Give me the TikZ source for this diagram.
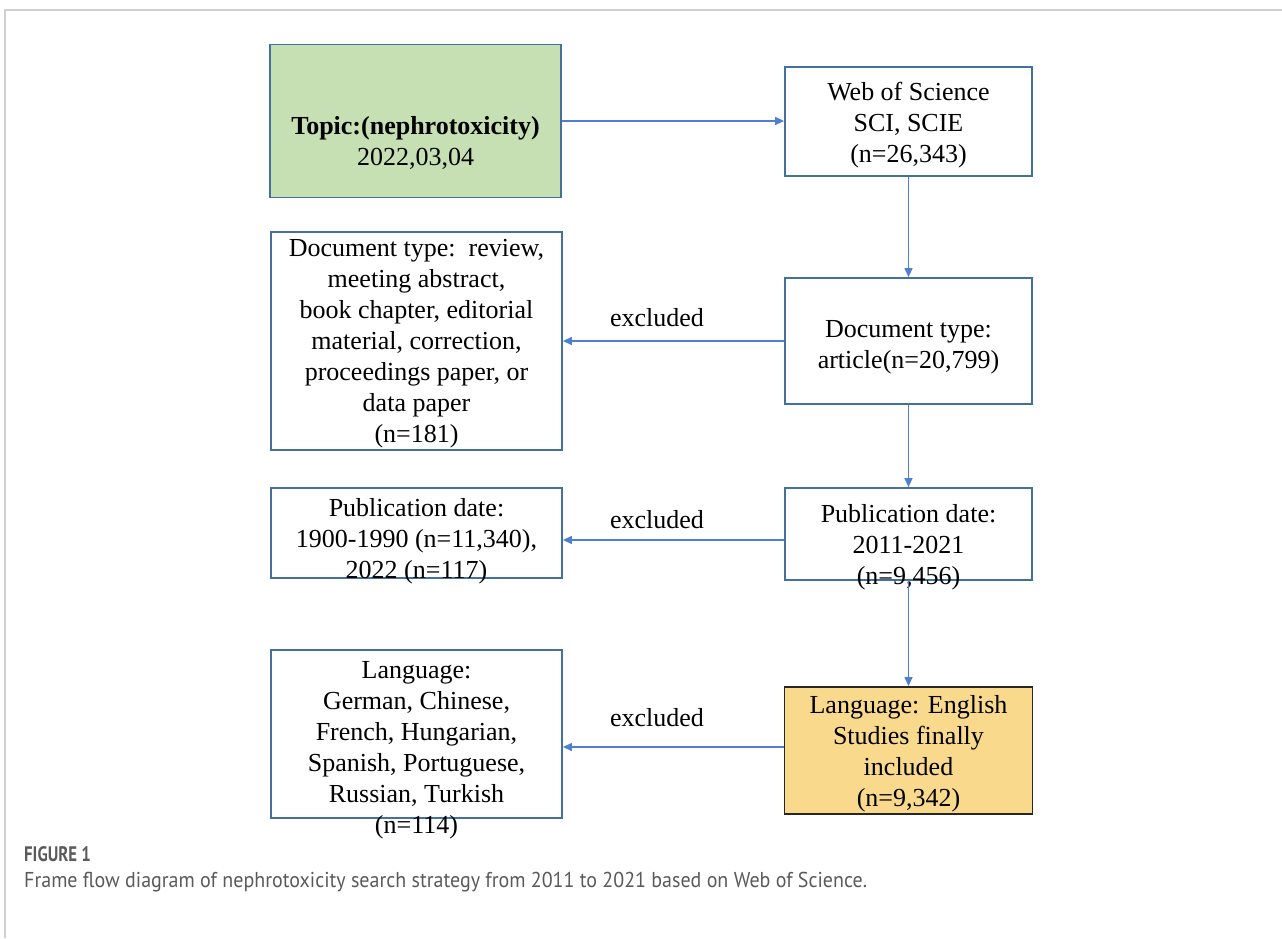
\documentclass[tikz,border=0pt]{standalone}
\usepackage{fontspec}
\setmainfont{Liberation Serif}
\newfontfamily\capfont{PT Sans}
\usetikzlibrary{arrows.meta,calc}
\definecolor{boxblue}{HTML}{41719C}
\definecolor{arrowblue}{HTML}{4F7FD0}
\definecolor{topicgreen}{HTML}{C6E0B4}
\definecolor{finalyellow}{HTML}{F9D98C}
\definecolor{framegray}{HTML}{CFCFCF}
\definecolor{capgray}{HTML}{5A5A5A}
\tikzset{
  flowbox/.style={draw=boxblue, line width=1.8pt, rectangle, inner sep=0pt},
  flowtext/.style={align=center, inner sep=0pt, font=\fontsize{26}{31}\selectfont},
  flowarrow/.style={draw=arrowblue, line width=1.3pt, -{Triangle[length=9pt,width=8pt]}},
  exlabel/.style={inner sep=0pt, font=\fontsize{26}{31}\selectfont},
}
\begin{document}
\begin{tikzpicture}[x=1pt,y=-1pt]
\useasboundingbox (0,0) rectangle (1282,938);
% page frame
\draw[framegray, line width=2pt] (5,938) -- (5,10) -- (1282,10);
% boxes
\node[flowbox, fill=topicgreen, minimum width=291pt, minimum height=153pt] (topic) at (415.5,121) {};
\node[flowbox, minimum width=247pt, minimum height=109pt] (wos) at (908.5,121.5) {};
\node[flowbox, minimum width=247pt, minimum height=126pt] (docright) at (908.5,341) {};
\node[flowbox, minimum width=291pt, minimum height=218pt] (docleft) at (416.5,341) {};
\node[flowbox, minimum width=247pt, minimum height=92pt] (pubright) at (908.5,534) {};
\node[flowbox, minimum width=291pt, minimum height=90pt] (publeft) at (416.5,533) {};
\node[flowbox, draw=black!85, fill=finalyellow, minimum width=248pt, minimum height=127pt] (langright) at (908.5,750.5) {};
\node[flowbox, minimum width=291pt, minimum height=168pt] (langleft) at (416.5,734) {};
% texts
\node[flowtext] (topict) at (415.5,143) {\textbf{Topic:(nephrotoxicity)}\\2022,03,04};
\node[flowtext] (wost) at (908.5,125) {Web of Science\\SCI, SCIE\\(n=26,343)};
\node[flowtext] (docrightt) at (908.5,347) {Document type:\\article(n=20,799)};
\node[flowtext] (doclefttt) at (416.5,344) {Document type:\ \ review,\\meeting abstract,\\book chapter, editorial\\material, correction,\\proceedings paper, or\\data paper\\(n=181)};
\node[flowtext] (pubrightt) at (908.5,547) {Publication date:\\2011-2021\\(n=9,456)};
\node[flowtext] (publeftt) at (416.5,541) {Publication date:\\1900-1990 (n=11,340),\\2022 (n=117)};
\node[flowtext] (langrightt) at (908.5,754) {Language: English\\Studies finally\\included\\(n=9,342)};
\node[flowtext] (langleftt) at (416.5,750) {Language:\\German, Chinese,\\French, Hungarian,\\Spanish, Portuguese,\\Russian, Turkish\\(n=114)};
% connectors
\draw[flowarrow] (topic.east) -- (topic.east -| wos.west);
\draw[flowarrow] (wos.south) -- (docright.north);
\draw[flowarrow] (docright.south) -- (pubright.north);
\draw[flowarrow] (pubright.south) -- (langright.north);
\coordinate (ex1) at (docright.west);
\coordinate (ex2) at ([yshift=-6pt]pubright.west);
\coordinate (ex3) at ([yshift=3.5pt]langright.west);
\draw[flowarrow] (ex1) -- (ex1 -| docleft.east);
\draw[flowarrow] (ex2) -- (ex2 -| publeft.east);
\draw[flowarrow] (ex3) -- (ex3 -| langleft.east);
\node[exlabel] (exl1) at (657,318) {excluded};
\node[exlabel] (exl2) at (657,520) {excluded};
\node[exlabel] (exl3) at (657,718) {excluded};
% caption
\node[anchor=west, inner sep=0pt, text=capgray, font=\capfont\bfseries\fontsize{21}{24}\selectfont] (capt) at (24,854) {\scalebox{0.8}[1]{FIGURE 1}};
\node[anchor=west, inner sep=0pt, text=capgray, font=\capfont\fontsize{21.5}{24}\selectfont] (capb) at (24,882) {\scalebox{0.93}[1]{Frame flow diagram of nephrotoxicity search strategy from 2011 to 2021 based on Web of Science.}};
\end{tikzpicture}
\end{document}
